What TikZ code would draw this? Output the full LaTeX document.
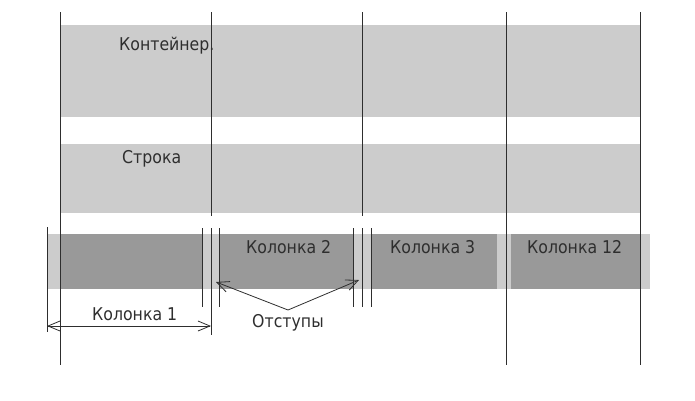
\documentclass[tikz,border=0pt]{standalone}
\usepackage{fontspec}
\setmainfont{DejaVu Sans}[FakeStretch=0.895]
\usetikzlibrary{arrows.meta}
\definecolor{lightbar}{HTML}{CCCCCC}
\definecolor{darkbar}{HTML}{999999}
\definecolor{ink}{HTML}{2E2E2E}
\begin{document}
\begin{tikzpicture}[x=1pt,y=-1pt,
  guide/.style={draw=ink, line width=0.9pt},
  lbl/.style={anchor=base west, inner sep=0pt, text=ink, font=\fontsize{17.6}{20}\selectfont},
  barbtip/.style={draw=ink, line width=0.8pt, -{Straight Barb[length=12pt,width=11pt]}},
  dimline/.style={draw=ink, line width=0.8pt, {Straight Barb[length=12pt,width=10pt]}-{Straight Barb[length=12pt,width=10pt]}}
]
\useasboundingbox (0,0) rectangle (695,400);
% bars
\fill[lightbar] (60,25) rectangle (640,117);
\fill[lightbar] (60,144) rectangle (640,213);
\fill[lightbar] (47,234) rectangle (650,289);
\fill[darkbar] (60,234) rectangle (202,289);
\fill[darkbar] (219,234) rectangle (353,289);
\fill[darkbar] (371,234) rectangle (497,289);
\fill[darkbar] (511,234) rectangle (640,289);
% grid lines
\draw[guide] (60,12) -- (60,365);
\draw[guide] (211,12) -- (211,216);
\draw[guide] (362,12) -- (362,216);
\draw[guide] (506,12) -- (506,365);
\draw[guide] (640,12) -- (640,365);
% gutter lines
\draw[guide] (47,227) -- (47,332);
\draw[guide] (202,228) -- (202,307);
\draw[guide] (211,228) -- (211,335);
\draw[guide] (219,228) -- (219,307);
\draw[guide] (353,228) -- (353,307);
\draw[guide] (362,228) -- (362,307);
\draw[guide] (371,228) -- (371,307);
% labels
\node[lbl] (cont) at (119,50) {Контейнер.};
\node[lbl] (row) at (122,163) {Строка};
\node[lbl] (c2) at (246,253) {Колонка 2};
\node[lbl] (c3) at (390,253) {Колонка 3};
\node[lbl] (c12) at (527,253) {Колонка 12};
\node[lbl] (c1) at (92,320) {Колонка 1};
\node[lbl] (gut) at (252,327) {Отступы};
% dimension arrow
\coordinate (dimL) at (47,326);
\coordinate (dimR) at (211,326);
\draw[dimline] (dimL) -- (dimR);
% gutter arrows
\coordinate (fork) at (288,310);
\coordinate (gutA) at (216,282);
\coordinate (gutB) at (359,280);
\draw[barbtip] (fork) -- (gutA);
\draw[barbtip] (fork) -- (gutB);
\end{tikzpicture}
\end{document}
